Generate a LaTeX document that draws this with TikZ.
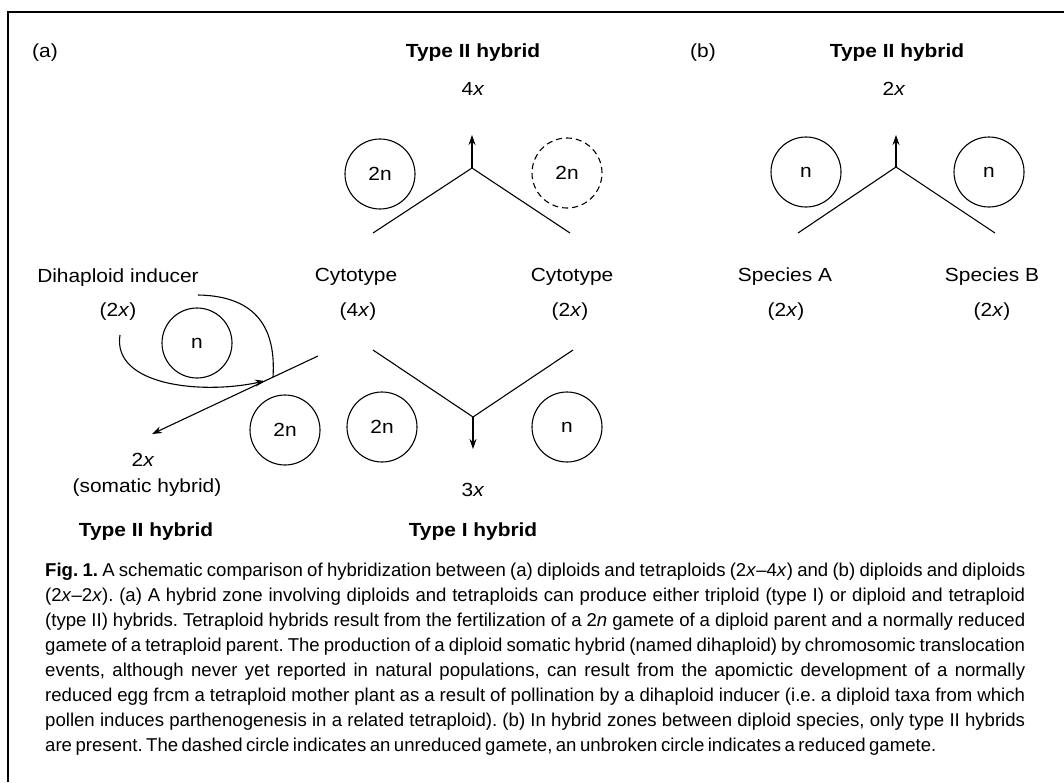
\documentclass[tikz,border=0pt]{standalone}
\usepackage{fontspec}
\setmainfont[FakeStretch=1.1]{Liberation Sans}
\newfontfamily\capfont[Ligatures=TeX]{Liberation Sans}
\usetikzlibrary{arrows.meta}
\newcommand\labfont{\fontsize{19}{22}\selectfont}
\newcommand\capsize{\capfont\fontsize{18.6}{25}\selectfont\frenchspacing}
\newcommand\capline[1]{\makebox[980pt][s]{#1}}
\tikzset{
  lab/.style={inner sep=0pt,font=\labfont},
  hdr/.style={inner sep=0pt,font=\labfont\bfseries},
  gam/.style={circle,draw,line width=1.1pt,minimum size=70pt,inner sep=0pt,font=\labfont},
  ugam/.style={gam,dash pattern=on 6pt off 4pt},
  cross/.style={line width=1.1pt},
  arr/.style={line width=1.1pt,-{Stealth[length=10pt,width=7pt]}},
  frame/.style={line width=1.3pt},
  capl/.style={anchor=base west,inner sep=0pt,font=\capsize}
}
\begin{document}
\begin{tikzpicture}[x=1pt,y=-1pt]
\useasboundingbox (0,0) rectangle (1064,782);
% frame
\coordinate (fbl) at (8,782);
\coordinate (ftl) at (8,12);
\coordinate (ftr) at (1064,12);
\draw[frame] (fbl) -- (ftl) -- (ftr);

% ---------- panel (a), top: type II hybrid 4x ----------
\node[lab] (alab) at (45,53) {(a)};
\node[hdr] (t2a) at (473,53) {Type II hybrid};
\node[lab] (fourx) at (473,89) {4\textit{x}};
\node[gam] (c2na) at (380,174) {2n};
\node[ugam] (c2nb) at (567,173) {2n};
\coordinate (apx1) at (472,168);
\coordinate (tip1) at (472,135);
\coordinate (l1) at (373,233);
\coordinate (r1) at (570,233);
\draw[cross] (l1) -- (apx1) -- (r1);
\draw[arr] (apx1) -- (tip1);

% cytotypes
\node[lab] (cyt4) at (356,277) {Cytotype};
\node[lab] (p4) at (358,312) {(4\textit{x})};
\node[lab] (cyt2) at (572,277) {Cytotype};
\node[lab] (p2) at (570,312) {(2\textit{x})};

% ---------- panel (a), bottom: type I hybrid 3x ----------
\coordinate (l2) at (373,350);
\coordinate (r2) at (573,350);
\coordinate (apx2) at (473,417);
\coordinate (tip2) at (473,449);
\draw[cross] (l2) -- (apx2) -- (r2);
\draw[arr] (apx2) -- (tip2);
\node[gam] (c2nc) at (382,427) {2n};
\node[gam] (cnc) at (567,427) {n};
\node[lab] (threex) at (473,490) {3\textit{x}};
\node[hdr] (t1) at (473,532) {Type I hybrid};

% ---------- panel (a), left: dihaploid inducer ----------
\node[lab] (dih) at (118,278) {Dihaploid inducer};
\node[lab] (dihp) at (118,312) {(2\textit{x})};
\node[gam] (cnd) at (197,343) {n};
\node[gam] (c2nd) at (285,430) {2n};
\coordinate (dstart) at (318,356);
\coordinate (dtip) at (152,434);
\coordinate (dmeet) at (265,381);
\coordinate (cs1) at (120,335);
\coordinate (cs2) at (198,295);
\coordinate (cmeet) at (273,377);
\draw[arr] (dstart) -- (dtip);
\draw[arr] (cs1) .. controls (112,385) and (200,395) .. (dmeet);
\draw[cross] (cs2) .. controls (258,296) and (276,330) .. (cmeet);
\node[lab] (twoxs) at (143,460) {2\textit{x}};
\node[lab] (som) at (147,488) {(somatic hybrid)};
\node[hdr] (t2c) at (146,532) {Type II hybrid};

% ---------- panel (b) ----------
\node[lab] (blab) at (703,53) {(b)};
\node[hdr] (t2b) at (897,53) {Type II hybrid};
\node[lab] (twoxb) at (894,89) {2\textit{x}};
\node[gam] (cnb1) at (806,172) {n};
\node[gam] (cnb2) at (989,172) {n};
\coordinate (apx3) at (896,167);
\coordinate (tip3) at (896,135);
\coordinate (l3) at (798,233);
\coordinate (r3) at (995,233);
\draw[cross] (l3) -- (apx3) -- (r3);
\draw[arr] (apx3) -- (tip3);
\node[lab] (spa) at (785,277) {Species A};
\node[lab] (spap) at (786,312) {(2\textit{x})};
\node[lab] (spb) at (992,277) {Species B};
\node[lab] (spbp) at (992,312) {(2\textit{x})};

% ---------- caption ----------
\node[capl] (cap1) at (45,576) {\capline{\textbf{Fig. 1.} A schematic comparison of hybridization between (a) diploids and tetraploids (2\textit{x}--4\textit{x}) and (b) diploids and diploids}};
\node[capl] (cap2) at (45,601) {\capline{(2\textit{x}--2\textit{x}). (a) A hybrid zone involving diploids and tetraploids can produce either triploid (type I) or diploid and tetraploid}};
\node[capl] (cap3) at (45,626) {\capline{(type II) hybrids. Tetraploid hybrids result from the fertilization of a 2\textit{n} gamete of a diploid parent and a normally reduced}};
\node[capl] (cap4) at (45,651) {\capline{gamete of a tetraploid parent. The production of a diploid somatic hybrid (named dihaploid) by chromosomic translocation}};
\node[capl] (cap5) at (45,676) {\capline{events, although never yet reported in natural populations, can result from the apomictic development of a normally}};
\node[capl] (cap6) at (45,701) {\capline{reduced egg frcm a tetraploid mother plant as a result of pollination by a dihaploid inducer (i.e. a diploid taxa from which}};
\node[capl] (cap7) at (45,726) {\capline{pollen induces parthenogenesis in a related tetraploid). (b) In hybrid zones between diploid species, only type II hybrids}};
\node[capl] (cap8) at (45,751) {\makebox[880pt][s]{are present. The dashed circle indicates an unreduced gamete, an unbroken circle indicates a reduced gamete.}};
\end{tikzpicture}
\end{document}
